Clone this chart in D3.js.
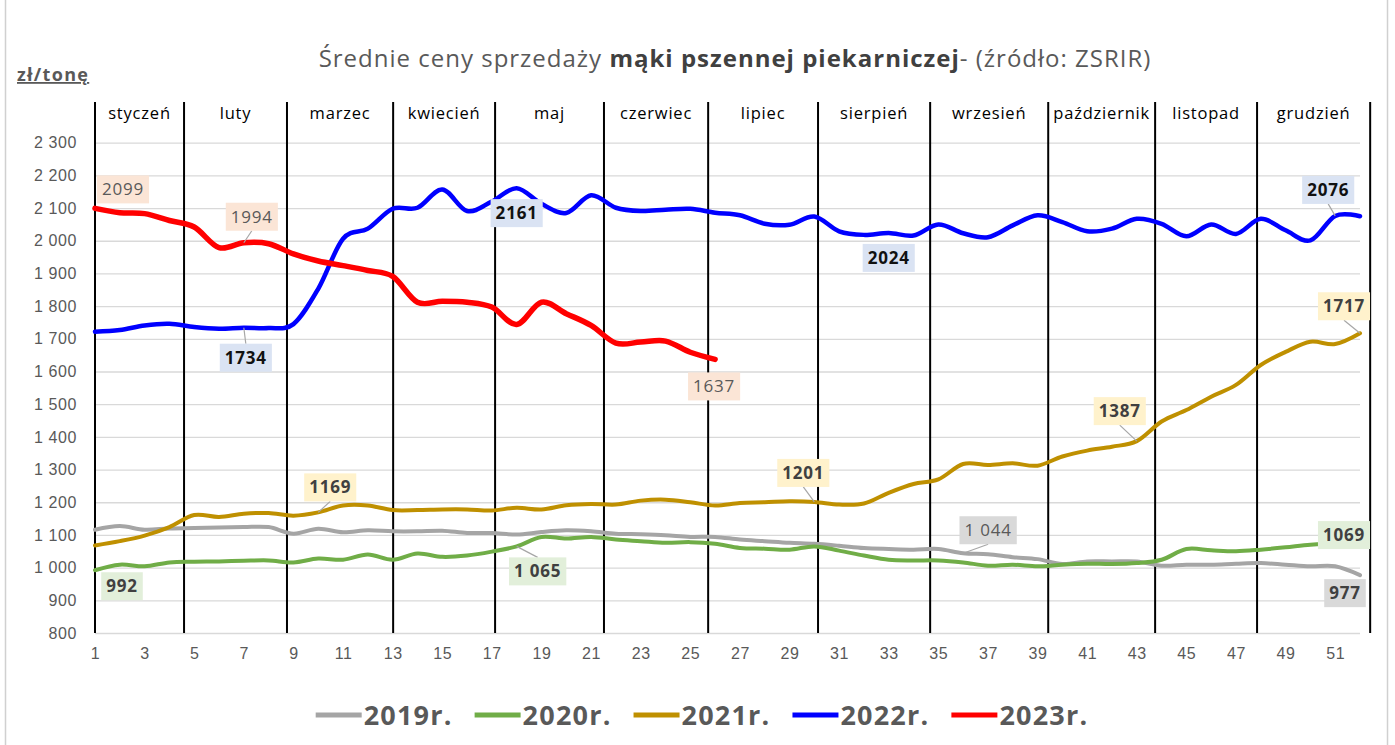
<!DOCTYPE html>
<meta charset="utf-8">
<style>

body {
  margin: 0;
  background: #fff;
}

svg {
  font-family: "Open Sans", sans-serif;
}

.grid line {
  stroke: #d9d9d9;
  stroke-width: 1.3;
}

.grid path,
.axis path {
  display: none;
}

.axis text {
  fill: #595959;
  font-size: 16px;
  letter-spacing: 0.6px;
}

.month-line {
  stroke: #000;
  stroke-width: 2;
}

.month-label {
  font-size: 16.5px;
  letter-spacing: 0.8px;
  fill: #000;
  text-anchor: middle;
}

.series {
  fill: none;
  stroke-linecap: round;
  stroke-linejoin: round;
}

.leader {
  stroke: #a6a6a6;
  stroke-width: 1.2;
}

</style>
<svg width="1395" height="745"></svg>
<script src="https://cdn.jsdelivr.net/npm/d3@7/dist/d3.min.js"></script>
<script>

// --- data ---------------------------------------------------------------
var weeks = d3.range(1, 53);
var xTickWeeks = d3.range(1, 53, 2);
var yTicks = d3.range(800, 2301, 100);

var months = ["styczeń", "luty", "marzec", "kwiecień", "maj", "czerwiec",
              "lipiec", "sierpień", "wrzesień", "październik", "listopad", "grudzień"];
// month separators, in weeks
var monthBounds = [1, 4.59, 8.74, 13.02, 17.13, 21.52, 25.72, 30.15, 34.67, 39.43, 43.74, 47.85, 52.41];

var years = ["2019r.", "2020r.", "2021r.", "2022r.", "2023r."];

var v2019 = [1116, 1127, 1116, 1120, 1121, 1123, 1124, 1124, 1104, 1119, 1108, 1114, 1111,
             1111, 1113, 1106, 1106, 1101, 1109, 1114, 1111, 1104, 1102, 1099, 1094, 1094,
             1086, 1081, 1076, 1073, 1067, 1060, 1057, 1055, 1057, 1044, 1041, 1032, 1026,
             1011, 1019, 1019, 1019, 1006, 1009, 1009, 1012, 1014, 1009, 1004, 1004, 977];

var v2020 = [992, 1009, 1004, 1016, 1018, 1019, 1021, 1022, 1016, 1028, 1024, 1040, 1024,
             1043, 1033, 1037, 1049, 1065, 1094, 1089, 1094, 1086, 1081, 1076, 1078, 1073,
             1060, 1058, 1055, 1065, 1052, 1037, 1024, 1022, 1022, 1016, 1006, 1009, 1004,
             1009, 1012, 1011, 1014, 1024, 1057, 1053, 1050, 1055, 1062, 1070, 1073, 1069];

var v2021 = [1068, 1081, 1098, 1124, 1161, 1155, 1165, 1167, 1159, 1169, 1190, 1190, 1176,
             1176, 1178, 1178, 1175, 1183, 1178, 1191, 1195, 1193, 1205, 1208, 1200, 1190,
             1198, 1200, 1203, 1201, 1193, 1196, 1229, 1256, 1270, 1317, 1314, 1319, 1312,
             1340, 1358, 1370, 1387, 1447, 1482, 1523, 1559, 1620, 1660, 1691, 1684, 1717];

var v2022 = [1722, 1727, 1741, 1746, 1736, 1731, 1734, 1733, 1745, 1853, 2006, 2037, 2098,
             2101, 2157, 2091, 2120, 2161, 2113, 2085, 2139, 2101, 2091, 2095, 2098, 2086,
             2078, 2052, 2049, 2074, 2029, 2018, 2024, 2016, 2050, 2023, 2011, 2047, 2078,
             2057, 2029, 2037, 2067, 2052, 2014, 2050, 2021, 2067, 2032, 2001, 2076, 2075];

var v2023 = [2099, 2086, 2083, 2062, 2042, 1979, 1994, 1991, 1960, 1938, 1924, 1909, 1891,
             1812, 1815, 1812, 1797, 1744, 1812, 1777, 1741, 1687, 1690, 1693, 1659, 1637];

// data labels: series index, week, text
var labelSeries = [4, 4, 4, 3, 3, 3, 3, 2, 2, 2, 2, 1, 1, 1, 0, 0];
var labelWeeks  = [1, 7, 26, 7, 18, 33, 51, 10, 30, 43, 52, 1, 18, 52, 36, 52];
var labelTexts  = ["2099", "1994", "1637", "1734", "2161", "2024", "2076",
                   "1169", "1201", "1387", "1717", "992", "1 065", "1069", "1 044", "977"];

// --- layout ---------------------------------------------------------------
var seriesValues = [v2019, v2020, v2021, v2022, v2023];
var colors = ["#a5a5a5", "#70ad47", "#bf9000", "#0000ff", "#ff0000"];
var widths = [4, 4, 4, 4.5, 5.5];
var boxFill = ["#d9d9d9", "#e2efda", "#fff2cc", "#dae3f3", "#fbe5d6"];
// label box offsets from its point (dx, dy), bold flag, leader flag
var labelLayout = [
  [28, -19, 0, 0], [8, -26, 0, 1], [-1, 27, 0, 0],
  [2, 30, 1, 1], [0, 25, 1, 0], [0, 25, 1, 0], [-7, -26, 1, 1],
  [12, -25, 1, 1], [-11, -29, 1, 1], [-17, -30, 1, 1], [-16, -27, 1, 1],
  [27, 16, 1, 0], [21, 25, 1, 1], [-16, -10, 1, 0],
  [25, -23, 0, 1], [-15, 18, 1, 0]
];

var svg = d3.select("svg");

var x = d3.scaleLinear().domain([1, 52]).range([95, 1360]),
    y = d3.scaleLinear().domain([800, 2300]).range([633, 142.7]);

// frame
svg.append("rect")
    .attr("x", 5.5).attr("y", -2)
    .attr("width", 1382).attr("height", 760)
    .attr("fill", "none")
    .attr("stroke", "#d0d0d0")
    .attr("stroke-width", 1.5);

// title
var title = svg.append("text")
    .attr("x", 735)
    .attr("y", 67)
    .attr("text-anchor", "middle")
    .attr("font-size", 24)
    .attr("letter-spacing", 1)
    .attr("fill", "#595959");
title.append("tspan").text("Średnie ceny sprzedaży ");
title.append("tspan").attr("font-weight", "bold").attr("fill", "#404040").text("mąki pszennej piekarniczej");
title.append("tspan").text("- (źródło: ZSRIR)");

svg.append("text")
    .attr("x", 17)
    .attr("y", 81)
    .attr("font-size", 18)
    .attr("letter-spacing", 1.3)
    .attr("font-weight", "bold")
    .attr("fill", "#595959")
    .attr("text-decoration", "underline")
    .text("zł/tonę");

// grid
svg.append("g")
    .attr("class", "grid")
    .attr("transform", "translate(" + x(1) + ",0)")
    .call(d3.axisLeft(y).tickValues(yTicks).tickSize(-(x(52) - x(1))).tickFormat(""));

svg.append("g")
    .attr("class", "axis")
    .attr("transform", "translate(" + x(1) + ",0)")
    .call(d3.axisLeft(y).tickValues(yTicks).tickSize(0).tickPadding(18)
      .tickFormat(function(d) { return d3.format(",")(d).replace(",", " "); }));

svg.append("g")
    .attr("class", "axis")
    .attr("transform", "translate(0," + y(800) + ")")
    .call(d3.axisBottom(x).tickValues(xTickWeeks).tickSize(0).tickPadding(15)
      .tickFormat(d3.format("d")));

// month separators and names
svg.selectAll(".month-line")
    .data(monthBounds)
  .enter().append("line")
    .attr("class", "month-line")
    .attr("x1", function(d) { return x(d); })
    .attr("x2", function(d) { return x(d); })
    .attr("y1", 102)
    .attr("y2", y(800));

svg.selectAll(".month-label")
    .data(months)
  .enter().append("text")
    .attr("class", "month-label")
    .attr("x", function(d, i) { return (x(monthBounds[i]) + x(monthBounds[i + 1])) / 2; })
    .attr("y", 119)
    .text(function(d) { return d; });

// series
var line = d3.line()
    .x(function(d, i) { return x(weeks[i]); })
    .y(function(d) { return y(d); })
    .curve(d3.curveCardinal.tension(0));

svg.selectAll(".series")
    .data(seriesValues)
  .enter().append("path")
    .attr("class", "series")
    .attr("stroke", function(d, i) { return colors[i]; })
    .attr("stroke-width", function(d, i) { return widths[i]; })
    .attr("d", line);

// data labels
var labels = svg.append("g");
labelTexts.forEach(function(t, i) {
  var s = labelSeries[i],
      w = labelWeeks[i],
      lay = labelLayout[i],
      px = x(w),
      py = y(seriesValues[s][w - 1]),
      cx = px + lay[0],
      cy = py + lay[1],
      bh = 28;

  var g = labels.append("g");
  var rect = g.append("rect").attr("fill", boxFill[s]);
  var txt = g.append("text")
      .attr("x", cx)
      .attr("y", cy + 6)
      .attr("text-anchor", "middle")
      .attr("font-size", 17)
      .attr("letter-spacing", 0.8)
      .attr("font-weight", lay[2] ? "bold" : "normal")
      .attr("fill", lay[2] ? (s === 3 ? "#111" : "#404040") : "#595959")
      .text(t);
  var bw = txt.node().getComputedTextLength() + 10;
  rect.attr("x", cx - bw / 2).attr("y", cy - bh / 2).attr("width", bw).attr("height", bh);

  if (lay[3]) {
    var ey = lay[1] > 0 ? cy - bh / 2 : cy + bh / 2;
    labels.insert("line", ":first-child")
        .attr("class", "leader")
        .attr("x1", cx).attr("y1", ey)
        .attr("x2", px).attr("y2", py);
  }
});

// legend
var legend = svg.append("g").attr("transform", "translate(0,715)");
var lx = 0;
years.forEach(function(name, i) {
  var item = legend.append("g").attr("transform", "translate(" + lx + ",0)");
  item.append("line")
      .attr("x1", 0).attr("x2", 46)
      .attr("stroke", colors[i])
      .attr("stroke-width", 5);
  var t = item.append("text")
      .attr("x", 48)
      .attr("y", 9.5)
      .attr("font-size", 27)
      .attr("letter-spacing", 1.2)
      .attr("font-weight", "bold")
      .attr("fill", "#595959")
      .text(name);
  lx += 48 + t.node().getComputedTextLength() + 22;
});
legend.attr("transform", "translate(" + (702 - (lx - 22) / 2) + ",715)");

</script>
